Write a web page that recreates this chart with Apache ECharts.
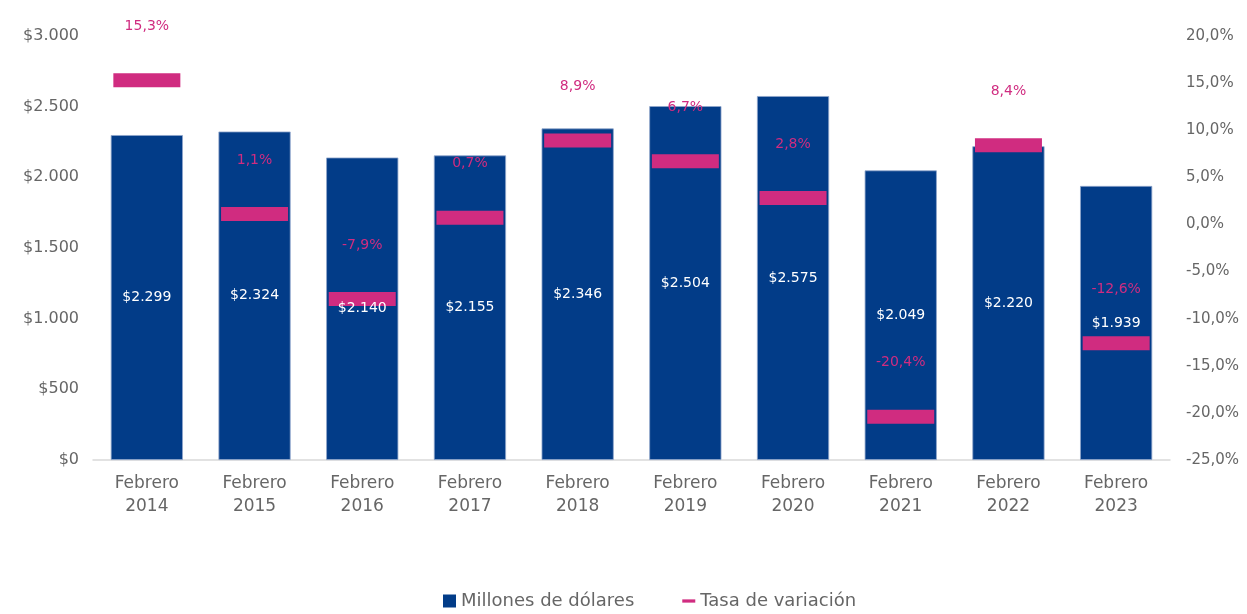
<!DOCTYPE html>
<html>
<head>
<meta charset="utf-8">
<script src="https://cdn.jsdelivr.net/npm/echarts@6/dist/echarts.min.js"></script>
<style>
  html, body { margin: 0; padding: 0; background: #fff; }
  #chart { width: 1247px; height: 614px; }
</style>
</head>
<body>
<div id="chart"></div>
<script>
    const categories = ['Febrero\n2014', 'Febrero\n2015', 'Febrero\n2016', 'Febrero\n2017', 'Febrero\n2018',
        'Febrero\n2019', 'Febrero\n2020', 'Febrero\n2021', 'Febrero\n2022', 'Febrero\n2023'];
    const millones = [2299, 2324, 2140, 2155, 2346, 2504, 2575, 2049, 2220, 1939];
    const tasa = [15.3, 1.1, -7.9, 0.7, 8.9, 6.7, 2.8, -20.4, 8.4, -12.6];

    const fontFamily = '"DejaVu Sans", sans-serif';
    const blue = '#023C88';
    const pink = '#D02C80';
    const gray = '#666666';

    function fmtMoney(v) {
        return '$' + String(v).replace(/\B(?=(\d{3})+(?!\d))/g, '.');
    }
    function fmtPct(v, d) {
        return v.toFixed(d).replace('.', ',') + '%';
    }

    const chart = echarts.init(document.getElementById('chart'));
    const option = {
        animation: false,
        textStyle: { fontFamily: fontFamily },
        grid: { left: 93, right: 77, top: 36, bottom: 154 },
        legend: {
            bottom: -1,
            left: 438,
            itemGap: 48,
            itemWidth: 13,
            itemHeight: 13,
            textStyle: { color: gray, fontSize: 18, fontFamily: fontFamily },
            data: [
                { name: 'Millones de dólares', icon: 'rect', itemStyle: { color: blue, borderWidth: 0 } },
                { name: 'Tasa de variación', icon: 'path://M0,0 L16,0 L16,4 L0,4 Z', itemStyle: { color: pink } }
            ]
        },
        xAxis: {
            type: 'category',
            data: categories,
            axisLine: { lineStyle: { color: '#D9D9D9', width: 1.5 } },
            axisTick: { show: false },
            axisLabel: { color: gray, fontSize: 17, lineHeight: 23, margin: 12, fontFamily: fontFamily }
        },
        yAxis: [
            {
                type: 'value',
                min: 0,
                max: 3000,
                interval: 500,
                splitLine: { show: false },
                axisLine: { show: false },
                axisTick: { show: false },
                axisLabel: { color: gray, fontSize: 16, margin: 14, formatter: fmtMoney, fontFamily: fontFamily }
            },
            {
                type: 'value',
                min: -25,
                max: 20,
                interval: 5,
                splitLine: { show: false },
                axisLine: { show: false },
                axisTick: { show: false },
                axisLabel: { color: gray, fontSize: 15, margin: 16, formatter: v => fmtPct(v, 1), fontFamily: fontFamily }
            }
        ],
        series: [
            {
                name: 'Millones de dólares',
                type: 'bar',
                data: millones,
                barWidth: '67%',
                itemStyle: { color: blue, borderColor: '#8FA6CC', borderWidth: 0.8 },
                z: 2
            },
            {
                name: 'Tasa de variación',
                type: 'scatter',
                yAxisIndex: 1,
                data: tasa,
                symbol: 'rect',
                symbolSize: [67, 14],
                itemStyle: { color: pink, opacity: 1 },
                label: {
                    show: true,
                    position: 'top',
                    distance: 40,
                    color: pink,
                    fontSize: 14,
                    fontFamily: fontFamily,
                    formatter: p => fmtPct(p.value, 1)
                },
                z: 3
            },
            {
                // bar value labels drawn above the pink markers
                name: 'etiquetas',
                type: 'bar',
                data: millones,
                barWidth: '67%',
                barGap: '-100%',
                silent: true,
                itemStyle: { color: 'rgba(0,0,0,0)' },
                label: {
                    show: true,
                    position: 'inside',
                    color: '#fff',
                    fontSize: 14,
                    fontFamily: fontFamily,
                    formatter: p => fmtMoney(p.value)
                },
                z: 4
            }
        ]
    };
    chart.setOption(option);
</script>
</body>
</html>
